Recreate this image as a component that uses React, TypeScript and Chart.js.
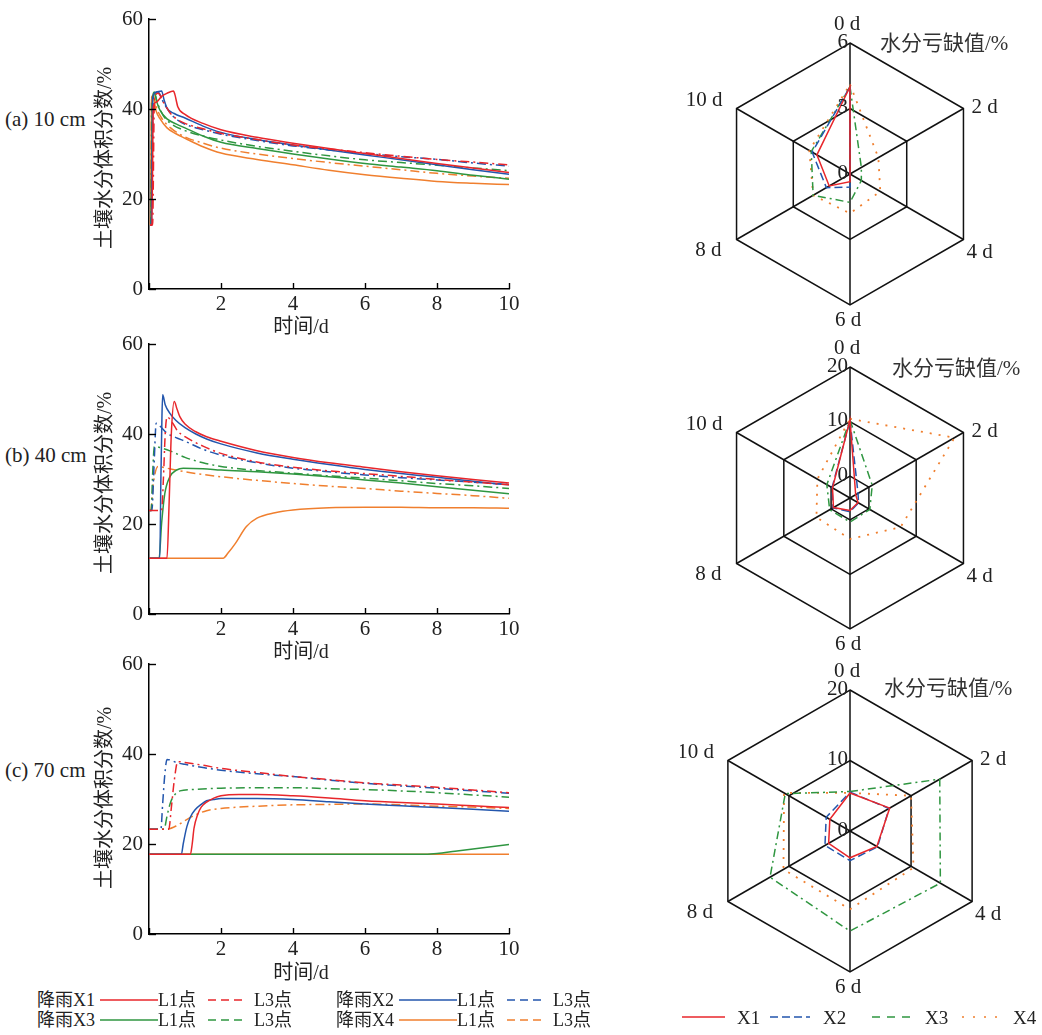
import React, { useEffect, useRef } from 'react';
import { Chart, registerables } from 'chart.js';
Chart.register(...registerables);

const RED = '#e8262b';
const BLUE = '#2356ad';
const GREEN = '#2f9640';
const ORANGE = '#f07f2e';
const SERIF = '"Liberation Serif", "Times New Roman", serif';
const MIXED = '"Liberation Serif", "Noto Sans CJK SC", serif';
const TXT = '#222';

// ---------- line-chart axes ----------
const xTickValues = [0, 2, 4, 6, 8, 10];
const yTickValues = [0, 20, 40, 60];

// ---------- Panel (a) 10 cm ----------
const aX1L1d = [0.03, 0.08, 0.12, 0.2, 0.35, 0.5, 0.68, 0.72, 0.8, 1.0, 1.5, 2, 3, 4, 5, 6, 7, 8, 9, 10];
const aX1L1v = [14.2, 14.2, 40.5, 41.5, 42.8, 43.5, 44.0, 43.2, 40.5, 38.8, 36.8, 35.4, 33.7, 32.4, 31.2, 30.1, 29.0, 27.9, 26.9, 25.9];
const aX1L3d = [0.03, 0.1, 0.15, 0.25, 0.4, 0.6, 0.8, 1, 1.5, 2, 3, 4, 5, 6, 7, 8, 9, 10];
const aX1L3v = [14.2, 14.2, 42, 43.5, 41.5, 39, 37.6, 36.8, 35.6, 34.6, 33.2, 32, 31.1, 30.3, 29.5, 28.8, 28.2, 27.6];
const aX2L1d = [0.03, 0.07, 0.1, 0.2, 0.35, 0.42, 0.5, 0.7, 1, 1.5, 2, 3, 4, 5, 6, 7, 8, 9, 10];
const aX2L1v = [14.2, 14.2, 42.5, 43.8, 44, 42, 40.2, 39, 38, 36.2, 34.8, 33.2, 32, 30.9, 29.8, 28.7, 27.6, 26.5, 25.5];
const aX2L3d = [0.03, 0.06, 0.12, 0.25, 0.4, 0.6, 0.8, 1, 1.5, 2, 3, 4, 5, 6, 7, 8, 9, 10];
const aX2L3v = [14.2, 14.2, 42.5, 43.8, 41.5, 39, 37.5, 36.6, 35.4, 34.4, 33, 31.8, 30.9, 30.1, 29.4, 28.8, 28, 27.3];
const aX3L1d = [0.03, 0.05, 0.1, 0.15, 0.22, 0.3, 0.5, 0.75, 1, 1.5, 2, 3, 4, 5, 6, 7, 8, 9, 10];
const aX3L1v = [14.2, 14.2, 42, 43.8, 41.5, 39.8, 37.8, 36.7, 35.8, 34, 32.6, 31.2, 30, 28.9, 27.9, 27.1, 26.3, 25.3, 24.4];
const aX3L3d = [0.03, 0.05, 0.09, 0.14, 0.25, 0.4, 0.6, 1, 1.5, 2, 3, 4, 5, 6, 7, 8, 9, 10];
const aX3L3v = [14.2, 14.2, 42, 43.5, 41, 38.5, 36.8, 35.2, 34, 33.1, 31.7, 30.6, 29.6, 28.7, 28.1, 27.5, 26.9, 26.3];
const aX4L1d = [0.03, 0.04, 0.07, 0.1, 0.2, 0.3, 0.5, 0.75, 1, 1.5, 2, 3, 4, 5, 6, 7, 8, 9, 10];
const aX4L1v = [14.2, 14.2, 42, 43, 39.5, 37.9, 35.8, 34.5, 33.5, 31.6, 30.2, 28.8, 27.6, 26.4, 25.4, 24.6, 23.9, 23.5, 23.2];
const aX4L3d = [0.03, 0.04, 0.07, 0.1, 0.2, 0.35, 0.6, 1, 1.5, 2, 3, 4, 5, 6, 7, 8, 9, 10];
const aX4L3v = [14.2, 14.2, 42, 43.5, 40.5, 38, 35.8, 33.8, 32.4, 31.3, 30, 29, 28.1, 27.3, 26.5, 25.7, 25.1, 24.6];

// ---------- Panel (b) 40 cm ----------
const bX1L1d = [0, 0.5, 0.56, 0.62, 0.7, 0.78, 0.86, 1, 1.3, 1.6, 2, 3, 4, 5, 6, 7, 8, 9, 10];
const bX1L1v = [12.4, 12.4, 25, 40, 47.2, 45.5, 43.8, 42.2, 40.5, 39.4, 38.4, 36.3, 34.8, 33.6, 32.6, 31.6, 30.7, 29.9, 29.1];
const bX1L3d = [0, 0.35, 0.4, 0.45, 0.5, 0.65, 0.8, 1, 1.5, 2, 3, 4, 5, 6, 7, 8, 9, 10];
const bX1L3v = [23, 23, 30, 40, 43.8, 42.5, 40.6, 39.4, 37.3, 35.7, 33.8, 32.6, 31.8, 31.2, 30.6, 29.9, 29.3, 28.7];
const bX2L1d = [0, 0.3, 0.33, 0.36, 0.38, 0.45, 0.58, 0.75, 1, 1.3, 1.6, 2, 3, 4, 5, 6, 7, 8, 9, 10];
const bX2L1v = [12.4, 12.4, 30, 44, 48.7, 46.5, 44.6, 43, 41.4, 40, 38.9, 37.8, 35.8, 34.4, 33.2, 32.1, 31.2, 30.4, 29.5, 28.7];
const bX2L3d = [0, 0.08, 0.14, 0.2, 0.3, 0.5, 0.75, 1, 1.5, 2, 3, 4, 5, 6, 7, 8, 9, 10];
const bX2L3v = [23, 23, 33, 42.4, 41.8, 40.2, 39.2, 38.4, 36.6, 35.3, 33.6, 32.4, 31.6, 30.9, 30.3, 29.8, 29.3, 28.8];
const bX3L1d = [0, 0.28, 0.35, 0.44, 0.58, 0.77, 0.95, 1.5, 2, 3, 4, 5, 6, 7, 8, 9, 10];
const bX3L1v = [12.4, 12.4, 20.1, 26.8, 30.5, 32, 32.4, 32.3, 32, 31.6, 31.1, 30.5, 29.8, 29.1, 28.3, 27.5, 26.7];
const bX3L3d = [0, 0.06, 0.1, 0.15, 0.3, 0.6, 1, 1.5, 2, 3, 4, 5, 6, 7, 8, 9, 10];
const bX3L3v = [23, 23, 31, 37.2, 37, 36.2, 34.8, 33.6, 32.8, 31.9, 31.3, 30.7, 30.2, 29.6, 29, 28.5, 27.9];
const bX4L1d = [0, 1, 2.06, 2.2, 2.4, 2.7, 3, 3.5, 4, 5, 6, 7, 8, 9, 10];
const bX4L1v = [12.4, 12.4, 12.4, 13.6, 15.7, 19.4, 21.3, 22.5, 23.1, 23.6, 23.7, 23.7, 23.6, 23.6, 23.5];
const bX4L3d = [0, 0.05, 0.12, 0.25, 0.5, 1, 1.5, 2, 3, 4, 5, 6, 7, 8, 9, 10];
const bX4L3v = [23, 23, 29, 32.8, 32.4, 31.6, 31, 30.5, 29.7, 29, 28.4, 27.9, 27.3, 26.8, 26.3, 25.7];

// ---------- Panel (c) 70 cm ----------
const cX1L1d = [0, 1.15, 1.2, 1.25, 1.35, 1.45, 1.6, 1.8, 2, 2.5, 3, 4, 5, 6, 7, 8, 9, 10];
const cX1L1v = [17.7, 17.7, 20, 23.5, 26.5, 28.2, 29.3, 30.2, 30.7, 31, 31, 30.7, 30.2, 29.6, 29.2, 28.9, 28.5, 28.1];
const cX1L3d = [0, 0.55, 0.62, 0.7, 0.8, 1, 1.5, 2, 3, 4, 5, 6, 7, 8, 9, 10];
const cX1L3v = [23.3, 23.3, 28, 34, 38.3, 38.1, 37.5, 36.8, 35.9, 35, 34.3, 33.6, 33.1, 32.6, 32, 31.4];
const cX2L1d = [0, 0.9, 0.95, 1.05, 1.15, 1.28, 1.45, 1.6, 1.8, 2, 3, 4, 5, 6, 7, 8, 9, 10];
const cX2L1v = [17.7, 17.7, 20, 23.8, 26, 27.6, 28.8, 29.6, 29.9, 30.1, 30.1, 29.9, 29.4, 28.9, 28.5, 28.1, 27.7, 27.3];
const cX2L3d = [0, 0.33, 0.38, 0.44, 0.5, 0.8, 1, 1.5, 2, 3, 4, 5, 6, 7, 8, 9, 10];
const cX2L3v = [23.3, 23.3, 29, 35.5, 38.8, 38, 37.7, 37, 36.4, 35.6, 35, 34.2, 33.5, 32.9, 32.4, 31.8, 31.3];
const cX3L1d = [0, 7.5, 8, 8.5, 9, 9.5, 10];
const cX3L1v = [17.7, 17.7, 17.9, 18.4, 18.9, 19.4, 19.9];
const cX3L3d = [0, 0.42, 0.5, 0.6, 0.72, 0.86, 1.2, 2, 3, 4, 5, 6, 7, 8, 9, 10];
const cX3L3v = [23.3, 23.3, 26.2, 29.3, 31, 31.8, 32.1, 32.4, 32.5, 32.5, 32.3, 32.1, 31.8, 31.4, 30.9, 30.4];
const cX4L1d = [0, 5, 10];
const cX4L1v = [17.7, 17.7, 17.7];
const cX4L3d = [0, 0.5, 0.8, 1, 1.3, 1.6, 2, 2.5, 3, 4, 5, 6, 7, 8, 9, 10];
const cX4L3v = [23.3, 23.3, 24.2, 25.2, 26.5, 27.4, 27.9, 28.2, 28.4, 28.7, 28.8, 28.9, 28.7, 28.4, 28.2, 27.9];

// ---------- Radar (water deficit, %) ----------
const radarAxes = ['0 d', '2 d', '4 d', '6 d', '8 d', '10 d'];
const radarSeriesNames = ['X1', 'X2', 'X3', 'X4'];
const r1Ticks = [0, 3, 6];
const r1X1 = [4.0, 0, 0, 0.35, 1.1, 1.75];
const r1X2 = [4.0, 0, 0, 0.6, 1.25, 2.0];
const r1X3 = [4.0, 0.6, 0.6, 1.3, 1.95, 2.05];
const r1X4 = [4.1, 1.5, 1.6, 1.8, 1.95, 2.15];
const r2Ticks = [-4, 0, 10, 20];
const r2X1 = [10.3, -2.8, -2.3, -1.7, -0.5, -0.3];
const r2X2 = [10.2, -2.3, -2.2, -1.5, -0.4, -0.2];
const r2X3 = [10.3, 0.7, 0.2, 0.4, 0.3, 0.9];
const r2X4 = [10.5, 18.1, 6.7, 3.5, 3.1, 2.9];
const r3Ticks = [0, 10, 20];
const r3X1 = [5.4, 6.5, 4.4, 3.8, 3.5, 3.3];
const r3X2 = [5.5, 6.4, 4.5, 4.2, 4.1, 3.9];
const r3X3 = [5.6, 14.7, 14.8, 14.2, 13.1, 10.6];
const r3X4 = [5.4, 10.0, 10.4, 11.1, 10.9, 10.8];

const DASH_L3 = [9, 4, 2, 4];
const seriesColors = [RED, BLUE, GREEN, ORANGE];
const radarDashes = [[], [8, 4], [8, 4, 2, 4], [2, 7]];

type Series = { d: number[]; v: number[]; color: string; dashed: boolean };

const panelA: Series[] = [
  { d: aX1L1d, v: aX1L1v, color: RED, dashed: false },
  { d: aX1L3d, v: aX1L3v, color: RED, dashed: true },
  { d: aX2L1d, v: aX2L1v, color: BLUE, dashed: false },
  { d: aX2L3d, v: aX2L3v, color: BLUE, dashed: true },
  { d: aX3L1d, v: aX3L1v, color: GREEN, dashed: false },
  { d: aX3L3d, v: aX3L3v, color: GREEN, dashed: true },
  { d: aX4L1d, v: aX4L1v, color: ORANGE, dashed: false },
  { d: aX4L3d, v: aX4L3v, color: ORANGE, dashed: true },
];
const panelB: Series[] = [
  { d: bX1L1d, v: bX1L1v, color: RED, dashed: false },
  { d: bX1L3d, v: bX1L3v, color: RED, dashed: true },
  { d: bX2L1d, v: bX2L1v, color: BLUE, dashed: false },
  { d: bX2L3d, v: bX2L3v, color: BLUE, dashed: true },
  { d: bX3L1d, v: bX3L1v, color: GREEN, dashed: false },
  { d: bX3L3d, v: bX3L3v, color: GREEN, dashed: true },
  { d: bX4L1d, v: bX4L1v, color: ORANGE, dashed: false },
  { d: bX4L3d, v: bX4L3v, color: ORANGE, dashed: true },
];
const panelC: Series[] = [
  { d: cX1L1d, v: cX1L1v, color: RED, dashed: false },
  { d: cX1L3d, v: cX1L3v, color: RED, dashed: true },
  { d: cX2L1d, v: cX2L1v, color: BLUE, dashed: false },
  { d: cX2L3d, v: cX2L3v, color: BLUE, dashed: true },
  { d: cX3L1d, v: cX3L1v, color: GREEN, dashed: false },
  { d: cX3L3d, v: cX3L3v, color: GREEN, dashed: true },
  { d: cX4L1d, v: cX4L1v, color: ORANGE, dashed: false },
  { d: cX4L3d, v: cX4L3v, color: ORANGE, dashed: true },
];

const inwardTicks = {
  id: 'inwardTicks',
  afterDraw(chart: any) {
    const { ctx } = chart;
    const x = chart.scales.x;
    const y = chart.scales.y;
    ctx.save();
    ctx.strokeStyle = '#000';
    ctx.lineWidth = 1.4;
    x.ticks.forEach((t: any) => {
      const px = Math.round(x.getPixelForValue(t.value)) + 0.5;
      ctx.beginPath();
      ctx.moveTo(px, y.bottom);
      ctx.lineTo(px, y.bottom - 6);
      ctx.stroke();
    });
    y.ticks.forEach((t: any) => {
      const py = Math.round(y.getPixelForValue(t.value)) + 0.5;
      ctx.beginPath();
      ctx.moveTo(x.left, py);
      ctx.lineTo(x.left + 7, py);
      ctx.stroke();
    });
    ctx.restore();
  },
};

function LineChart({ series, top }: { series: Series[]; top: number }) {
  const ref = useRef<HTMLCanvasElement>(null);
  useEffect(() => {
    const tickFont = { family: SERIF, size: 21 };
    const chart = new Chart(ref.current!, {
      type: 'line',
      data: {
        datasets: series.map((s) => ({
          data: s.d.map((d, i) => ({ x: d, y: s.v[i] })),
          borderColor: s.color,
          borderWidth: 1.5,
          borderDash: s.dashed ? DASH_L3 : [],
          pointRadius: 0,
          fill: false,
          cubicInterpolationMode: 'monotone' as const,
        })),
      },
      options: {
        animation: false,
        responsive: false,
        devicePixelRatio: 1,
        layout: { padding: { top: 19, right: 31, left: 0, bottom: 0 } },
        plugins: { legend: { display: false }, tooltip: { enabled: false } },
        scales: {
          x: {
            type: 'linear',
            min: 0,
            max: 10,
            afterFit: (s: any) => { s.height = 51; },
            afterBuildTicks: (s: any) => { s.ticks = xTickValues.map((v) => ({ value: v })); },
            ticks: {
              font: tickFont,
              color: TXT,
              padding: 3,
              maxRotation: 0,
              autoSkip: false,
              callback: (v: any) => (v === 0 ? '' : String(v)),
            },
            grid: { display: false, drawTicks: false },
            border: { display: true, color: '#000', width: 1.5 },
          },
          y: {
            type: 'linear',
            min: 0,
            max: 60,
            afterFit: (s: any) => { s.width = 54; },
            afterBuildTicks: (s: any) => { s.ticks = yTickValues.map((v) => ({ value: v })); },
            ticks: { font: tickFont, color: TXT, padding: 6 },
            grid: { display: false, drawTicks: false },
            border: { display: true, color: '#000', width: 1.5 },
          },
        },
      },
      plugins: [inwardTicks],
    } as any);
    return () => chart.destroy();
  }, []);
  return (
    <canvas
      ref={ref}
      width={445}
      height={340}
      style={{ position: 'absolute', left: 95, top, width: 445, height: 340 }}
    />
  );
}

// label offsets relative to each hexagon vertex: [dx, dy, align]
const radarLabelPlace: [number, number, CanvasTextAlign][] = [
  [-3, -19, 'center'],
  [8, -1, 'left'],
  [3, 13, 'left'],
  [-2, 15, 'center'],
  [-15, 11, 'right'],
  [-14, -8, 'right'],
];

const radarLabels = {
  id: 'radarLabels',
  afterDraw(chart: any) {
    const { ctx } = chart;
    const s = chart.scales.r;
    ctx.save();
    ctx.fillStyle = TXT;
    ctx.font = `21px ${SERIF}`;
    ctx.textBaseline = 'middle';
    radarAxes.forEach((lab, i) => {
      const p = s.getPointPosition(i, s.drawingArea);
      const [dx, dy, al] = radarLabelPlace[i];
      ctx.textAlign = al;
      ctx.fillText(lab, p.x + dx, p.y + dy);
    });
    ctx.textAlign = 'right';
    const ticks: number[] = chart.options.plugins.radarLabels.ticks;
    ticks.forEach((v) => {
      if (v < 0) return;
      const dist = s.getDistanceFromCenterForValue(v);
      ctx.fillText(String(v), s.xCenter - 2, s.yCenter - dist - 1);
    });
    ctx.restore();
  },
};

function RadarChart({
  top, height, pad, min, max, ticks, data,
}: {
  top: number; height: number; pad: { left: number; top: number; right: number; bottom: number };
  min: number; max: number; ticks: number[]; data: number[][];
}) {
  const ref = useRef<HTMLCanvasElement>(null);
  useEffect(() => {
    const chart = new Chart(ref.current!, {
      type: 'radar',
      data: {
        labels: radarAxes,
        datasets: data.map((d, i) => ({
          label: radarSeriesNames[i],
          data: d,
          borderColor: seriesColors[i],
          borderWidth: i === 3 ? 1.8 : 1.5,
          borderDash: radarDashes[i],
          pointRadius: 0,
          fill: false,
          tension: 0,
        })),
      },
      options: {
        animation: false,
        responsive: false,
        devicePixelRatio: 1,
        layout: { padding: pad },
        plugins: { legend: { display: false }, tooltip: { enabled: false }, radarLabels: { ticks } } as any,
        scales: {
          r: {
            min,
            max,
            afterBuildTicks: (s: any) => { s.ticks = ticks.map((v) => ({ value: v })); },
            ticks: { display: false },
            pointLabels: { display: false },
            grid: { color: '#111', lineWidth: 1.5 },
            angleLines: { color: '#111', lineWidth: 1.5 },
          },
        },
      },
      plugins: [radarLabels],
    } as any);
    return () => chart.destroy();
  }, []);
  return (
    <canvas
      ref={ref}
      width={362}
      height={height}
      style={{ position: 'absolute', left: 680, top, width: 362, height }}
    />
  );
}

function Txt({ x, y, children, size = 21, anchor = 'left', rot = false, color = TXT }: any) {
  const tx = anchor === 'center' ? '-50%' : anchor === 'right' ? '-100%' : '0';
  return (
    <div
      style={{
        position: 'absolute',
        left: x,
        top: y,
        transform: rot ? 'translate(-50%, -50%) rotate(-90deg)' : `translate(${tx}, -50%)`,
        fontSize: size,
        fontFamily: MIXED,
        whiteSpace: 'nowrap',
        lineHeight: 1,
        color,
      }}
    >
      {children}
    </div>
  );
}

function LegendLine({ x, y, w, color, dash }: { x: number; y: number; w: number; color: string; dash: number[] }) {
  return (
    <svg style={{ position: 'absolute', left: x, top: y - 3 }} width={w} height={6}>
      <line x1={0} y1={3} x2={w} y2={3} stroke={color} strokeWidth={1.6} strokeDasharray={dash.length ? dash.join(' ') : undefined} />
    </svg>
  );
}

const legendRows = [
  { y: 1000, items: [{ name: '降雨X1', color: RED, x: 37 }, { name: '降雨X2', color: BLUE, x: 336 }] },
  { y: 1020, items: [{ name: '降雨X3', color: GREEN, x: 37 }, { name: '降雨X4', color: ORANGE, x: 336 }] },
];

export default function App() {
  return (
    <div style={{ position: 'absolute', left: 0, top: 0, width: 1042, height: 1035, background: '#fff', overflow: 'hidden' }}>
      <LineChart series={panelA} top={0} />
      <LineChart series={panelB} top={325} />
      <LineChart series={panelC} top={645} />

      <Txt x={5} y={119}>(a) 10 cm</Txt>
      <Txt x={5} y={455}>(b) 40 cm</Txt>
      <Txt x={5} y={770}>(c) 70 cm</Txt>
      <Txt x={104} y={158} size={20} rot>土壤水分体积分数/%</Txt>
      <Txt x={104} y={483} size={20} rot>土壤水分体积分数/%</Txt>
      <Txt x={104} y={798} size={20} rot>土壤水分体积分数/%</Txt>
      <Txt x={301} y={326} size={20} anchor="center">时间/d</Txt>
      <Txt x={301} y={651} size={20} anchor="center">时间/d</Txt>
      <Txt x={301} y={972} size={20} anchor="center">时间/d</Txt>

      <RadarChart top={0} height={335} pad={{ left: 39, top: 43, right: 61, bottom: 30 }} min={0} max={6} ticks={r1Ticks} data={[r1X1, r1X2, r1X3, r1X4]} />
      <RadarChart top={335} height={320} pad={{ left: 39, top: 32, right: 61, bottom: 26 }} min={-4} max={20} ticks={r2Ticks} data={[r2X1, r2X2, r2X3, r2X4]} />
      <RadarChart top={655} height={380} pad={{ left: 29, top: 35, right: 50, bottom: 62 }} min={0} max={20} ticks={r3Ticks} data={[r3X1, r3X2, r3X3, r3X4]} />

      <Txt x={880} y={43} color="#333">水分亏缺值/%</Txt>
      <Txt x={892} y={368} color="#333">水分亏缺值/%</Txt>
      <Txt x={884} y={688} color="#333">水分亏缺值/%</Txt>

      {legendRows.map((row, ri) =>
        row.items.map((it, ii) => (
          <React.Fragment key={`${ri}-${ii}`}>
            <Txt x={it.x} y={row.y} size={18}>{it.name}</Txt>
            <LegendLine x={it.x + 63} y={row.y} w={58} color={it.color} dash={[]} />
            <Txt x={it.x + 121} y={row.y} size={18}>L1点</Txt>
            <LegendLine x={it.x + 171} y={row.y} w={38} color={it.color} dash={[8, 5]} />
            <Txt x={it.x + 217} y={row.y} size={18}>L3点</Txt>
          </React.Fragment>
        ))
      )}

      {radarSeriesNames.map((n, i) => (
        <React.Fragment key={n}>
          <LegendLine x={[682, 770, 872, 962][i]} y={1017} w={[43, 40, 38, 38][i]} color={seriesColors[i]} dash={[[], [8, 4], [8, 7], [2, 9]][i]} />
          <Txt x={[737, 823, 925, 1013][i]} y={1017} size={19}>{n}</Txt>
        </React.Fragment>
      ))}
    </div>
  );
}
